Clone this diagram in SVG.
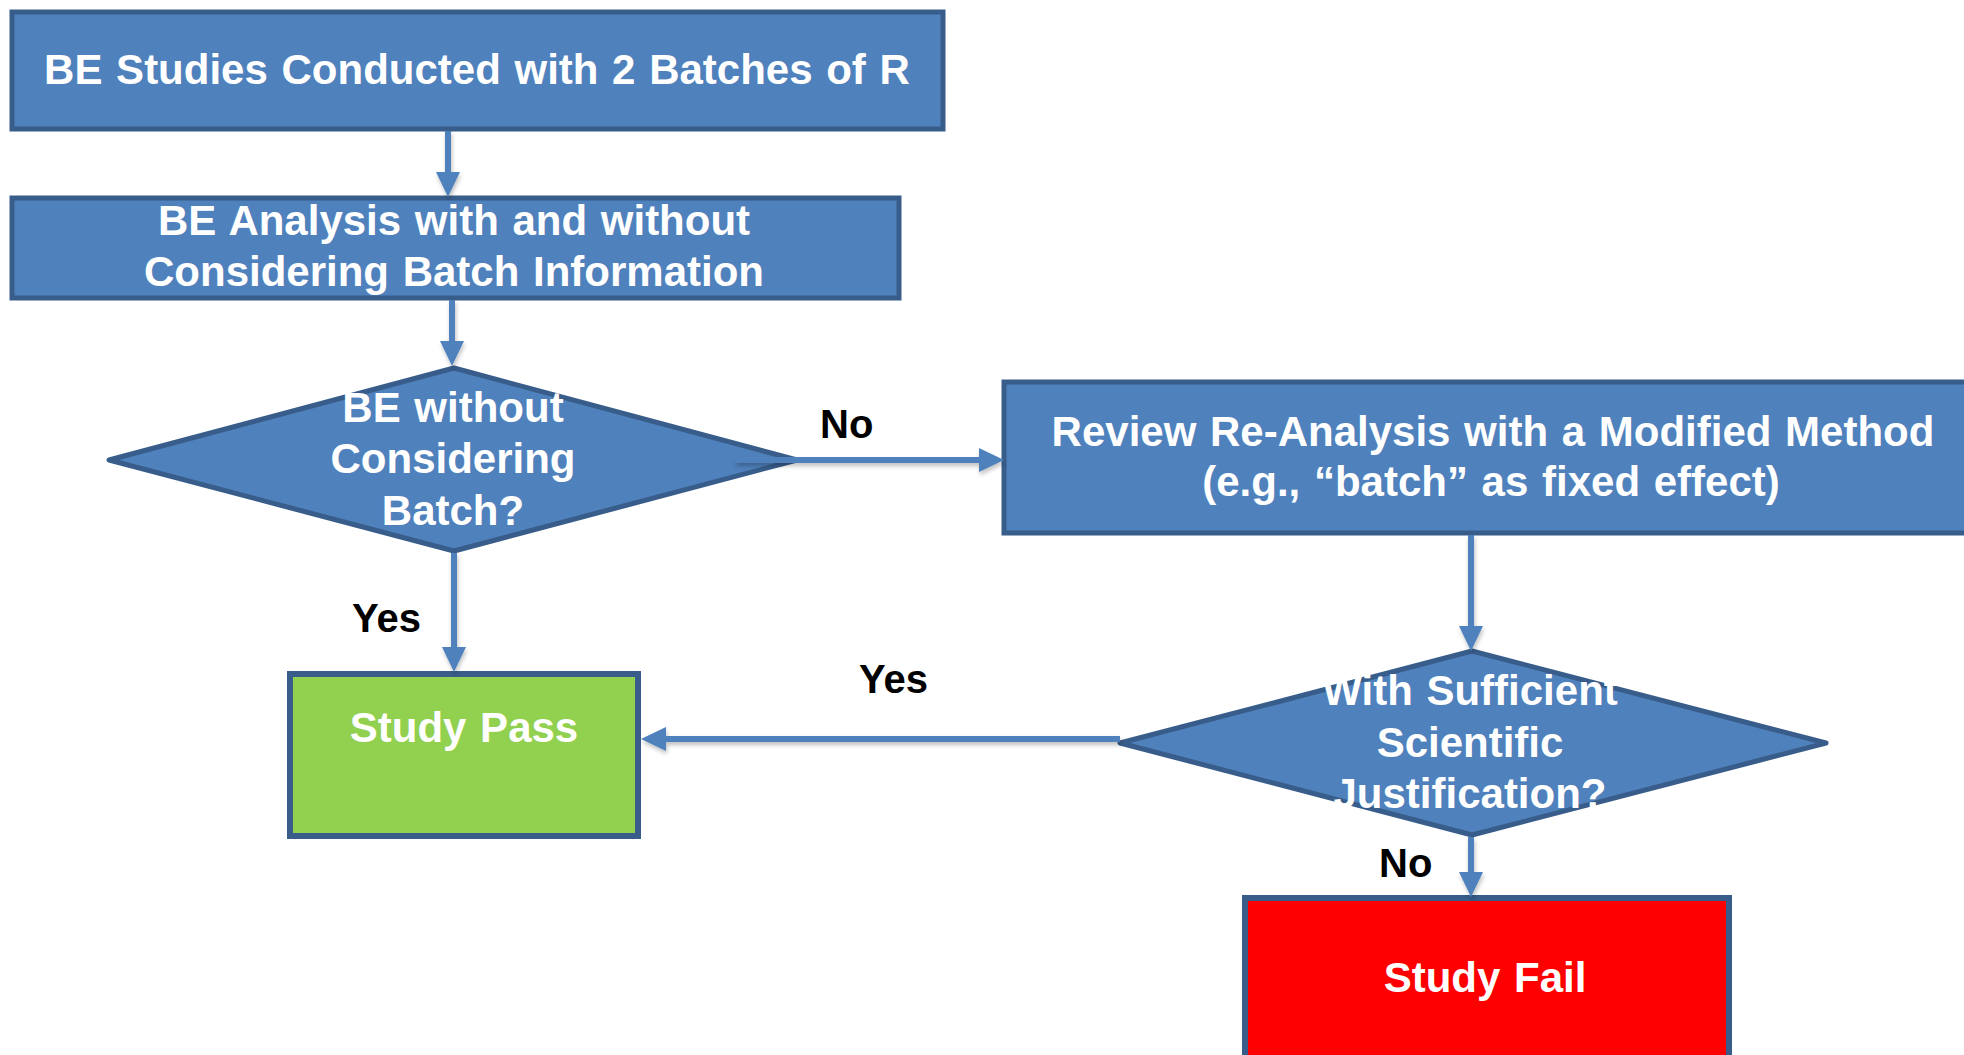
<svg xmlns="http://www.w3.org/2000/svg" width="1964" height="1055" viewBox="0 0 1964 1055">
<style>
.box{fill:#4F81BD;stroke:#385D8A;stroke-width:5}
.dia{fill:#4F81BD;stroke:#385D8A;stroke-width:5;stroke-linejoin:round}
.pass{fill:#92D050;stroke:#385D8A;stroke-width:6}
.fail{fill:#FF0000;stroke:#385D8A;stroke-width:6}
.t{font-family:"Liberation Sans",Arial,sans-serif;font-weight:bold;font-size:42px;fill:#FFFFFF;text-anchor:middle;word-spacing:2px}
.lbl{font-family:"Liberation Sans",Arial,sans-serif;font-weight:bold;font-size:40px;fill:#000000}
.c{stroke:#4F81BD;stroke-width:6;fill:none;marker-end:url(#ah)}
</style>
<defs>
<marker id="ah" markerUnits="userSpaceOnUse" markerWidth="25" markerHeight="24" refX="10" refY="12" orient="auto">
<path d="M0,0 L25,12 L0,24 z" fill="#4F81BD"/>
</marker>
<filter id="sh" filterUnits="userSpaceOnUse" x="0" y="0" width="1964" height="1055">
<feDropShadow dx="1" dy="3" stdDeviation="2" flood-color="#000" flood-opacity="0.25"/>
</filter>
</defs>

<g id="n1">
<rect class="box" x="12" y="12" width="931" height="117"/>
<text class="t" x="477" y="84">BE Studies Conducted with 2 Batches of R</text>
</g>

<g id="n2">
<rect class="box" x="12" y="198" width="887" height="100"/>
<text class="t" x="454" y="235">BE Analysis with and without</text>
<text class="t" x="454" y="286">Considering Batch Information</text>
</g>

<g id="d1">
<polygon class="dia" points="109,460 454,368 797,460 454,551"/>
<text class="t" x="453" y="422">BE without</text>
<text class="t" x="453" y="473">Considering</text>
<text class="t" x="453" y="525">Batch?</text>
</g>

<g id="n3">
<rect class="box" x="1004" y="382" width="980" height="151"/>
<text class="t" x="1493" y="446">Review Re-Analysis with a Modified Method</text>
<text class="t" x="1491" y="496">(e.g., “batch” as fixed effect)</text>
</g>

<g id="pass">
<rect class="pass" x="290" y="674" width="348" height="162"/>
<text class="t" x="464" y="742">Study Pass</text>
</g>

<g id="d2">
<polygon class="dia" points="1120,743 1472,651 1826,743 1472,835"/>
<text class="t" x="1470" y="705">With Sufficient</text>
<text class="t" x="1470" y="757">Scientific</text>
<text class="t" x="1470" y="808">Justification?</text>
</g>

<g id="fail">
<rect class="fail" x="1245" y="898" width="484" height="180"/>
<text class="t" x="1485" y="992">Study Fail</text>
</g>

<g id="connectors" filter="url(#sh)">
<line class="c" x1="448" y1="131" x2="448" y2="182"/>
<line class="c" x1="452" y1="300" x2="452" y2="351"/>
<line class="c" x1="735" y1="460" x2="989" y2="460"/>
<line class="c" x1="454" y1="553" x2="454" y2="657"/>
<line class="c" x1="1471" y1="535" x2="1471" y2="636"/>
<line class="c" x1="1120" y1="739" x2="656" y2="739"/>
<line class="c" x1="1471" y1="837" x2="1471" y2="882"/>
</g>

<g id="labels">
<text class="lbl" x="820" y="438">No</text>
<text class="lbl" x="352" y="632">Yes</text>
<text class="lbl" x="859" y="693">Yes</text>
<text class="lbl" x="1379" y="877">No</text>
</g>
</svg>
